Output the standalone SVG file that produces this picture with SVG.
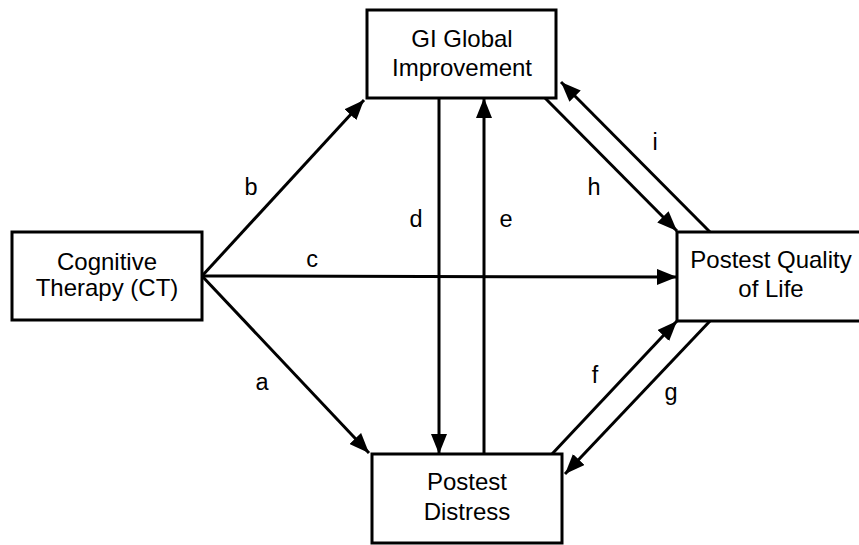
<svg xmlns="http://www.w3.org/2000/svg" width="859" height="545" viewBox="0 0 859 545">
<style>
.box{fill:#fff;stroke:#000;stroke-width:3}
.t{font-family:"Liberation Sans",Arial,sans-serif;font-size:24px;fill:#000;text-anchor:middle}
.lbl{font-family:"Liberation Sans",Arial,sans-serif;font-size:23.5px;fill:#000;text-anchor:middle}
.c{stroke:#000;stroke-width:3;fill:none;marker-end:url(#ah)}
</style>
<defs>
<marker id="ah" markerUnits="userSpaceOnUse" markerWidth="20" markerHeight="16" refX="20" refY="8" orient="auto">
<path d="M0,0 L20,8 L0,16 z" fill="#000"/>
</marker>
</defs>
<rect width="859" height="545" fill="#fff"/>
<g id="connectors">
<line class="c" x1="202" y1="276" x2="364" y2="100"/>
<line class="c" x1="202" y1="276" x2="369" y2="453"/>
<line class="c" x1="202" y1="276" x2="677" y2="277"/>
<line class="c" x1="439" y1="98" x2="439" y2="454"/>
<line class="c" x1="484" y1="454" x2="484" y2="98"/>
<line class="c" x1="545" y1="98" x2="677" y2="231"/>
<line class="c" x1="710" y1="232" x2="561" y2="82"/>
<line class="c" x1="552" y1="454" x2="677" y2="321"/>
<line class="c" x1="710" y1="321" x2="565" y2="474"/>
<g id="labels">
<text class="lbl" x="251" y="195">b</text>
<text class="lbl" x="312" y="267">c</text>
<text class="lbl" x="262" y="390">a</text>
<text class="lbl" x="416" y="227">d</text>
<text class="lbl" x="506" y="227">e</text>
<text class="lbl" x="594" y="195">h</text>
<text class="lbl" x="655" y="150">i</text>
<text class="lbl" x="595" y="383">f</text>
<text class="lbl" x="671" y="400">g</text>
</g>
</g>
<g id="gi">
<rect class="box" x="367" y="10" width="189" height="88"/>
<text class="t" x="462" y="47">GI Global</text>
<text class="t" x="462" y="76">Improvement</text>
</g>
<g id="ct">
<rect class="box" x="12" y="232" width="190" height="88"/>
<text class="t" x="107" y="270">Cognitive</text>
<text class="t" x="107" y="296">Therapy (CT)</text>
</g>
<g id="pql">
<rect class="box" x="677" y="232" width="190" height="89"/>
<text class="t" x="771" y="268">Postest Quality</text>
<text class="t" x="771" y="297">of Life</text>
</g>
<g id="pd">
<rect class="box" x="372" y="454" width="190" height="89"/>
<text class="t" x="467" y="490">Postest</text>
<text class="t" x="467" y="520">Distress</text>
</g>
</svg>
